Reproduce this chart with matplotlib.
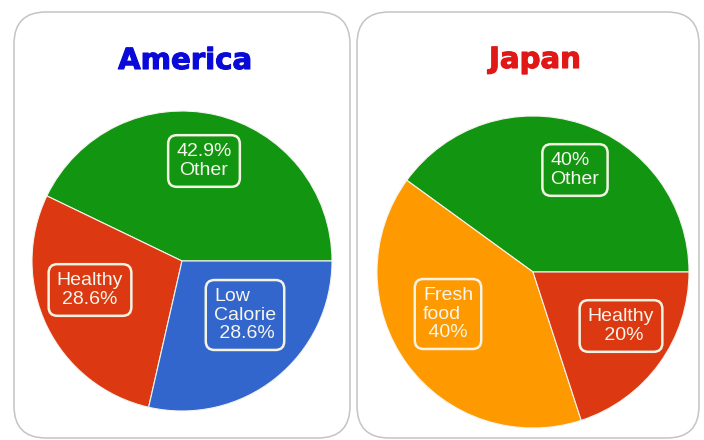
import matplotlib
matplotlib.use("Agg")
import matplotlib.pyplot as plt
import matplotlib.patheffects as pe
from matplotlib.patches import FancyBboxPatch

# survey shares per country
us_labels = ["Other", "Healthy", "Low Calorie"]
us_values = [42.9, 28.6, 28.6]
us_colors = ["#129612", "#dc3912", "#3366cc"]

jp_labels = ["Other", "Fresh food", "Healthy"]
jp_values = [40, 40, 20]
jp_colors = ["#129612", "#ff9900", "#dc3912"]

W, H = 704, 440
fig = plt.figure(figsize=(W / 100, H / 100), dpi=100)
ax = fig.add_axes([0, 0, 1, 1])
plt.rcParams["font.family"] = ["Liberation Sans", "DejaVu Sans"]


def panel(x0, x1, y0, y1):
    box = FancyBboxPatch((x0 + 30, y0 + 30), (x1 - x0) - 60, (y1 - y0) - 60,
                         boxstyle="round,pad=30,rounding_size=32",
                         fc="white", ec="#c4c4c4", lw=1.1, zorder=0)
    ax.add_patch(box)


def fmt(v):
    return f"{v:g}%"


panel(14, 350, 2, 428)
panel(357, 699, 2, 428)

wp = dict(edgecolor="#f4f4ee", linewidth=0.8)
ax.pie(us_values, colors=us_colors, startangle=0, counterclock=True,
       center=(182, 179), radius=150, frame=True, wedgeprops=wp)
ax.pie(jp_values, colors=jp_colors, startangle=0, counterclock=True,
       center=(533, 168), radius=156, frame=True, wedgeprops=wp)

ax.set_xlim(0, W)
ax.set_ylim(0, H)
ax.set_aspect("equal")
ax.axis("off")

# heavy titles: bold face plus a thin stroke of the same colour
for x, y, name, c in [(185, 379, "America", "#0a0ad8"), (535, 380, "Japan", "#e01818")]:
    ax.text(x, y, name, color=c, fontsize=21, fontweight="bold",
            family="DejaVu Sans", ha="center", va="center",
            path_effects=[pe.withStroke(linewidth=0.8, foreground=c)])

box = dict(boxstyle="round,pad=0.42,rounding_size=0.45", fc="none",
           ec="#f3f3e4", lw=1.8)
tk = dict(color="#f6f6ec", fontsize=14, ha="center", va="center",
          linespacing=1.1, bbox=box)

# America labels
ax.text(204, 279, f"{fmt(us_values[0])}\n{us_labels[0]}", **tk)
ax.text(90, 150, f"{us_labels[1]}\n{fmt(us_values[1])}", **tk)
ax.text(245, 125, f"Low\nCalorie\n {fmt(us_values[2])}", multialignment="left", **tk)

# Japan labels
ax.text(575, 270, f"{fmt(jp_values[0])}\n{jp_labels[0]}", multialignment="left", **tk)
ax.text(448, 126, "Fresh\nfood\n " + fmt(jp_values[1]), multialignment="left", **tk)
ax.text(621, 114, f"{jp_labels[2]}\n {fmt(jp_values[2])}", **tk)

fig.savefig("out.png", dpi=100)
